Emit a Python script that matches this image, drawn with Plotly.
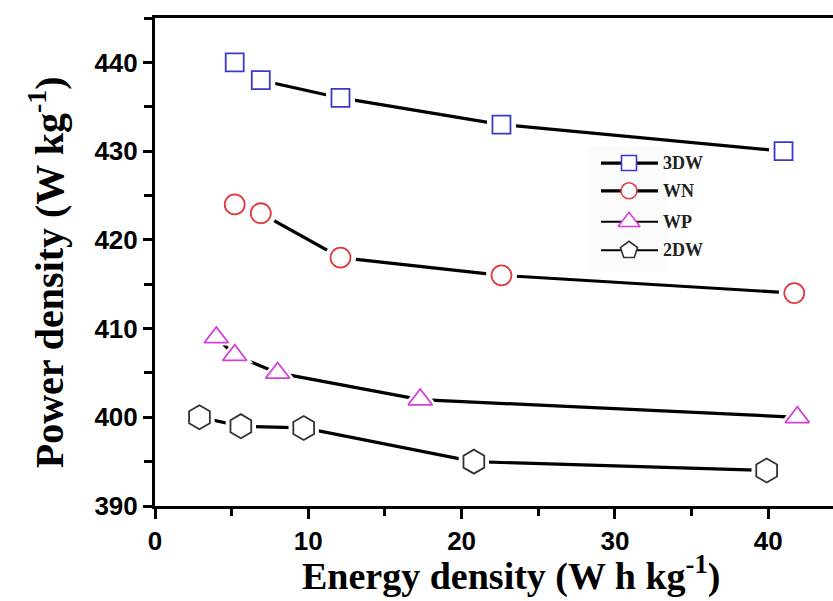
import plotly.graph_objects as go

# Energy density (W h kg^-1) vs power density (W kg^-1) for each electrode
series_names = ["3DW", "WN", "WP", "2DW"]
energy_3dw = [5.2, 6.9, 12.1, 22.6, 41.0]
power_3dw = [440, 438, 436, 433, 430]
energy_wn = [5.2, 6.9, 12.1, 22.6, 41.7]
power_wn = [424, 423, 418, 416, 414]
energy_wp = [4.0, 5.2, 8.0, 17.3, 41.9]
power_wp = [409, 407, 405, 402, 400]
energy_2dw = [2.9, 5.6, 9.7, 20.8, 39.9]
power_2dw = [400, 399, 398.8, 395, 394]

x_ticks = [0, 10, 20, 30, 40]
y_ticks = [390, 400, 410, 420, 430, 440]

W, H = 833, 601
L, R, T, B = 155, 0, 17.5, 95
PW, PH = W - L - R, H - T - B

styles = {
    "3DW": dict(symbol="square", size=18, color="#3a3acc", lw=3.2, legsym="square", legsize=15),
    "WN": dict(symbol="circle", size=20, color="#e0393e", lw=3.2, legsym="circle", legsize=16),
    "WP": dict(symbol="triangle-up", size=21, color="#d63fd6", lw=3.2, legsym="triangle-up", legsize=19),
    "2DW": dict(symbol="hexagon", size=24, color="#333333", lw=3.2, legsym="pentagon", legsize=18),
}
data = {
    "3DW": (energy_3dw, power_3dw),
    "WN": (energy_wn, power_wn),
    "WP": (energy_wp, power_wp),
    "2DW": (energy_2dw, power_2dw),
}

fig = go.Figure()
for name in series_names:
    xs, ys = data[name]
    st = styles[name]
    # connecting line
    fig.add_trace(go.Scatter(x=xs, y=ys, mode="lines", showlegend=False,
                             line=dict(color="black", width=st["lw"]), hoverinfo="skip"))
    # white halo so the line stops short of each symbol
    fig.add_trace(go.Scatter(x=xs, y=ys, mode="markers", showlegend=False, hoverinfo="skip",
                             marker=dict(symbol=st["symbol"], size=st["size"] + 11, color="white",
                                         line=dict(width=0))))
    # open symbol
    fig.add_trace(go.Scatter(x=xs, y=ys, mode="markers", name=name, showlegend=False,
                             marker=dict(symbol=st["symbol"], size=st["size"], color="white",
                                         line=dict(color=st["color"], width=1.8))))

# key drawn on an overlay axis spanning the plot area (0..1)
def fx(px):
    return (px - L) / PW

def fy(py):
    return (T + PH - py) / PH

key_rows = [162.7, 190.5, 221.5, 250.0]
key_line_w = {"3DW": 3.2, "WN": 3.2, "WP": 2.0, "2DW": 2.0}
fig.add_shape(type="rect", xref="paper", yref="paper", x0=fx(588), x1=fx(668), y0=fy(272), y1=fy(146),
              fillcolor="#fbfbfb", line=dict(width=0), layer="below")
for name, row in zip(series_names, key_rows):
    st = styles[name]
    fig.add_trace(go.Scatter(x=[fx(601), fx(629), fx(658)], y=[fy(row)] * 3, xaxis="x2", yaxis="y2",
                             mode="lines", showlegend=False, hoverinfo="skip",
                             line=dict(color="black", width=key_line_w[name])))
    fig.add_trace(go.Scatter(x=[fx(629)], y=[fy(row)], xaxis="x2", yaxis="y2",
                             mode="markers", showlegend=False, hoverinfo="skip",
                             marker=dict(symbol=st["legsym"], size=st["legsize"], color="white",
                                         line=dict(color=st["color"], width=1.6))))
    fig.add_annotation(x=fx(661), y=fy(row), xref="paper", yref="paper", text="<b>%s</b>" % name,
                       showarrow=False, xanchor="left", yanchor="middle",
                       font=dict(family="Liberation Serif", size=18, color="#222"))

tick_font = dict(family="Liberation Sans Narrow, Liberation Sans", size=26, color="black", weight="bold")
fig.update_layout(
    width=W, height=H,
    margin=dict(l=L, r=R, t=T, b=B),
    paper_bgcolor="white", plot_bgcolor="white",
    showlegend=False,
    xaxis=dict(range=[0, PW / 15.33], tickvals=x_ticks, ticks="outside", ticklen=10, tickwidth=2.5,
               tickcolor="black", showline=True, linewidth=3, linecolor="black", mirror=True,
               showgrid=False, zeroline=False, tickfont=tick_font,
               minor=dict(dtick=5, tick0=0, ticks="outside", ticklen=7, tickwidth=2.5, tickcolor="black")),
    yaxis=dict(range=[390, 390 + PH / 8.88], tickvals=y_ticks, ticks="outside", ticklen=9, tickwidth=2.5,
               tickcolor="black", showline=True, linewidth=3, linecolor="black",
               showgrid=False, zeroline=False, tickfont=tick_font,
               minor=dict(dtick=5, tick0=390, ticks="outside", ticklen=8, tickwidth=2.5, tickcolor="black")),
    xaxis2=dict(overlaying="x", range=[0, 1], visible=False),
    yaxis2=dict(overlaying="y", range=[0, 1], visible=False),
)

fig.add_annotation(x=fx(511), y=fy(574), xref="paper", yref="paper",
                   text="<b>Energy density (W h kg<sup>-1</sup>)</b>", showarrow=False,
                   xanchor="center", yanchor="middle",
                   font=dict(family="Liberation Serif", size=38, color="black"))
fig.add_annotation(x=fx(46), y=fy(272), xref="paper", yref="paper", textangle=-90,
                   text="<b>Power density (W kg<sup>-1</sup>)</b>", showarrow=False,
                   xanchor="center", yanchor="middle",
                   font=dict(family="Liberation Serif", size=40, color="black"))

fig.write_html("out.html")
